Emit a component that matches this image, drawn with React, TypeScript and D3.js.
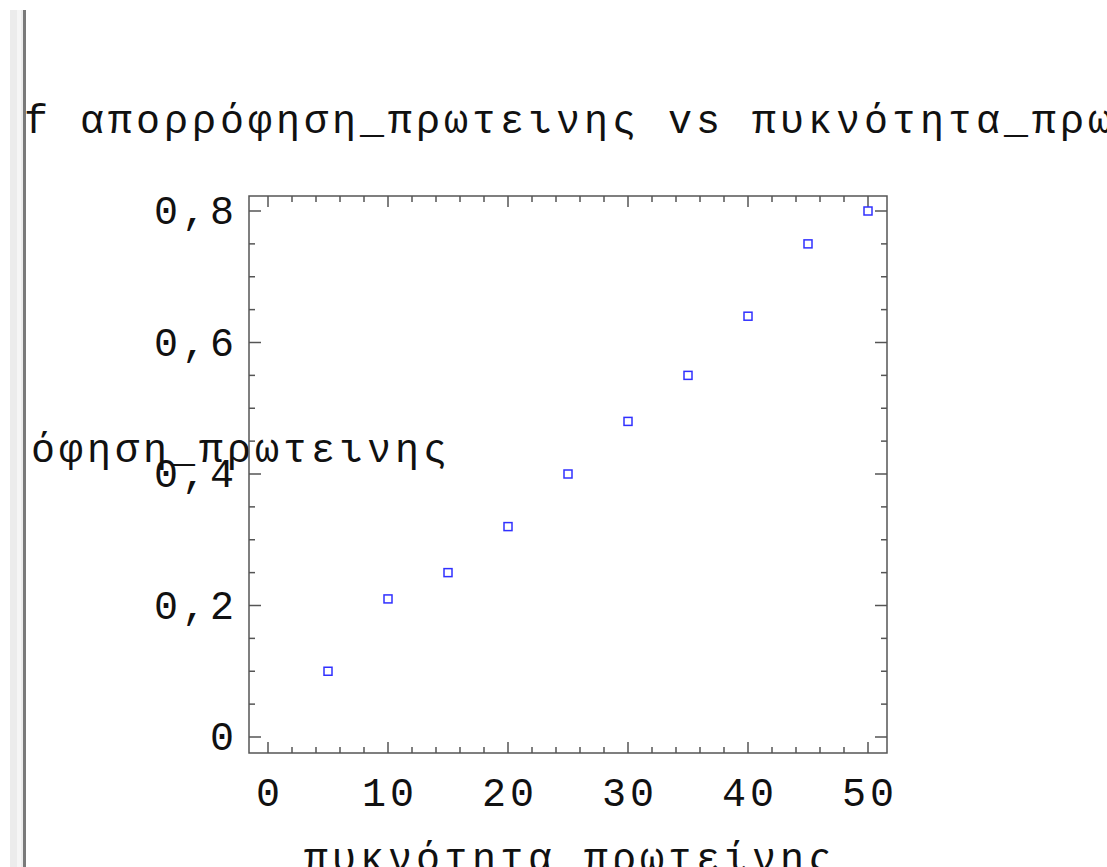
import React, { useRef, useEffect } from "react";
import { select, scaleLinear, range } from "d3";

// protein density (x) vs protein absorbance (y)
const density = [5, 10, 15, 20, 25, 30, 35, 40, 45, 50];
const absorbance = [0.1, 0.21, 0.25, 0.32, 0.4, 0.48, 0.55, 0.64, 0.75, 0.8];

const xTickValues = [0, 10, 20, 30, 40, 50];
const yTickValues = [0, 0.2, 0.4, 0.6, 0.8];
const yTickLabels = ["0", "0,2", "0,4", "0,6", "0,8"];

const titleText = "Plot of απορρόφηση_πρωτεινης vs πυκνότητα_πρωτείνης";
const xLabel = "πυκνότητα_πρωτείνης";
const yLabel = "απορρόφηση_πρωτεινης";

const FONT = "'Liberation Mono', 'DejaVu Sans Mono', monospace";
const LS = 4; // letter spacing -> 28px per char at 40px

function ScatterPlot() {
  const svgRef = useRef(null);

  useEffect(() => {
    document.body.style.margin = "0";
    const svg = select(svgRef.current);
    svg.selectAll("*").remove();

    const frame = { left: 249, right: 887, top: 196, bottom: 753 };

    const xScale = scaleLinear().domain([0, 50]).range([268, 868]);
    const yScale = scaleLinear().domain([0, 0.8]).range([737, 211]);

    const defs = svg.append("defs");
    defs
      .append("clipPath")
      .attr("id", "txtclip")
      .append("rect")
      .attr("x", 26)
      .attr("y", 0)
      .attr("width", 1107)
      .attr("height", 867);

    const texts = svg.append("g").attr("clip-path", "url(#txtclip)");

    // title (overflows the window, like the original)
    texts
      .append("text")
      .attr("x", (frame.left + frame.right) / 2 + LS / 2)
      .attr("y", 133)
      .attr("text-anchor", "middle")
      .text(titleText);

    // y label (left unrotated)
    texts
      .append("text")
      .attr("x", 447 + LS)
      .attr("y", 462)
      .attr("text-anchor", "end")
      .text(yLabel);

    // x label (cut by bottom edge)
    texts
      .append("text")
      .attr("x", (frame.left + frame.right) / 2 + LS / 2)
      .attr("y", 871)
      .attr("text-anchor", "middle")
      .text(xLabel);

    // tick labels
    texts
      .selectAll(".ytl")
      .data(yTickValues)
      .join("text")
      .attr("class", "ytl")
      .attr("x", 234 + LS)
      .attr("y", d => yScale(d) + 13)
      .attr("text-anchor", "end")
      .text((d, i) => yTickLabels[i]);

    texts
      .selectAll(".xtl")
      .data(xTickValues)
      .join("text")
      .attr("class", "xtl")
      .attr("x", d => xScale(d) + LS / 2)
      .attr("y", 806)
      .attr("text-anchor", "middle")
      .text(d => `${d}`);

    texts
      .selectAll("text")
      .attr("font-family", FONT)
      .attr("font-size", 40)
      .attr("letter-spacing", LS)
      .attr("fill", "#111");

    // frame
    const axisColor = "#555";
    svg
      .append("rect")
      .attr("x", frame.left)
      .attr("y", frame.top)
      .attr("width", frame.right - frame.left)
      .attr("height", frame.bottom - frame.top)
      .attr("fill", "none")
      .attr("stroke", axisColor)
      .attr("stroke-width", 1.5);

    // x ticks, major every 10, minor every 2, on bottom and top
    const xTicks = range(0, 51, 2);
    const tickG = svg.append("g").attr("stroke", axisColor).attr("stroke-width", 1.5);
    xTicks.forEach(v => {
      const len = v % 10 === 0 ? 11 : 6;
      const x = xScale(v);
      tickG.append("line").attr("x1", x).attr("x2", x).attr("y1", frame.bottom).attr("y2", frame.bottom - len);
      tickG.append("line").attr("x1", x).attr("x2", x).attr("y1", frame.top).attr("y2", frame.top + len);
    });

    // y ticks, major every 0.2, minor every 0.05, on left and right
    const yTicks = range(0, 17).map(i => i * 0.05);
    yTicks.forEach((v, i) => {
      const len = i % 4 === 0 ? 12 : 6;
      const y = yScale(v);
      tickG.append("line").attr("x1", frame.left).attr("x2", frame.left + len).attr("y1", y).attr("y2", y);
      tickG.append("line").attr("x1", frame.right).attr("x2", frame.right - len).attr("y1", y).attr("y2", y);
    });

    // points
    svg
      .selectAll(".pt")
      .data(density)
      .join("rect")
      .attr("class", "pt")
      .attr("x", d => xScale(d) - 4)
      .attr("y", (d, i) => yScale(absorbance[i]) - 4)
      .attr("width", 8)
      .attr("height", 8)
      .attr("fill", "none")
      .attr("stroke", "#3030ff")
      .attr("stroke-width", 1.5);

    // window edge on the left
    svg.append("rect").attr("x", 10).attr("y", 10).attr("width", 13).attr("height", 857).attr("fill", "#ececec");
    svg.append("rect").attr("x", 17).attr("y", 10).attr("width", 4).attr("height", 857).attr("fill", "#f6f6f6");
    svg.append("rect").attr("x", 23).attr("y", 10).attr("width", 3).attr("height", 857).attr("fill", "#7a7a7a");
  }, []);

  return (
    <svg
      ref={svgRef}
      width={1107}
      height={867}
      style={{ display: "block", background: "#fff", overflow: "hidden" }}
    ></svg>
  );
}

export default function App() {
  return <ScatterPlot />;
}
